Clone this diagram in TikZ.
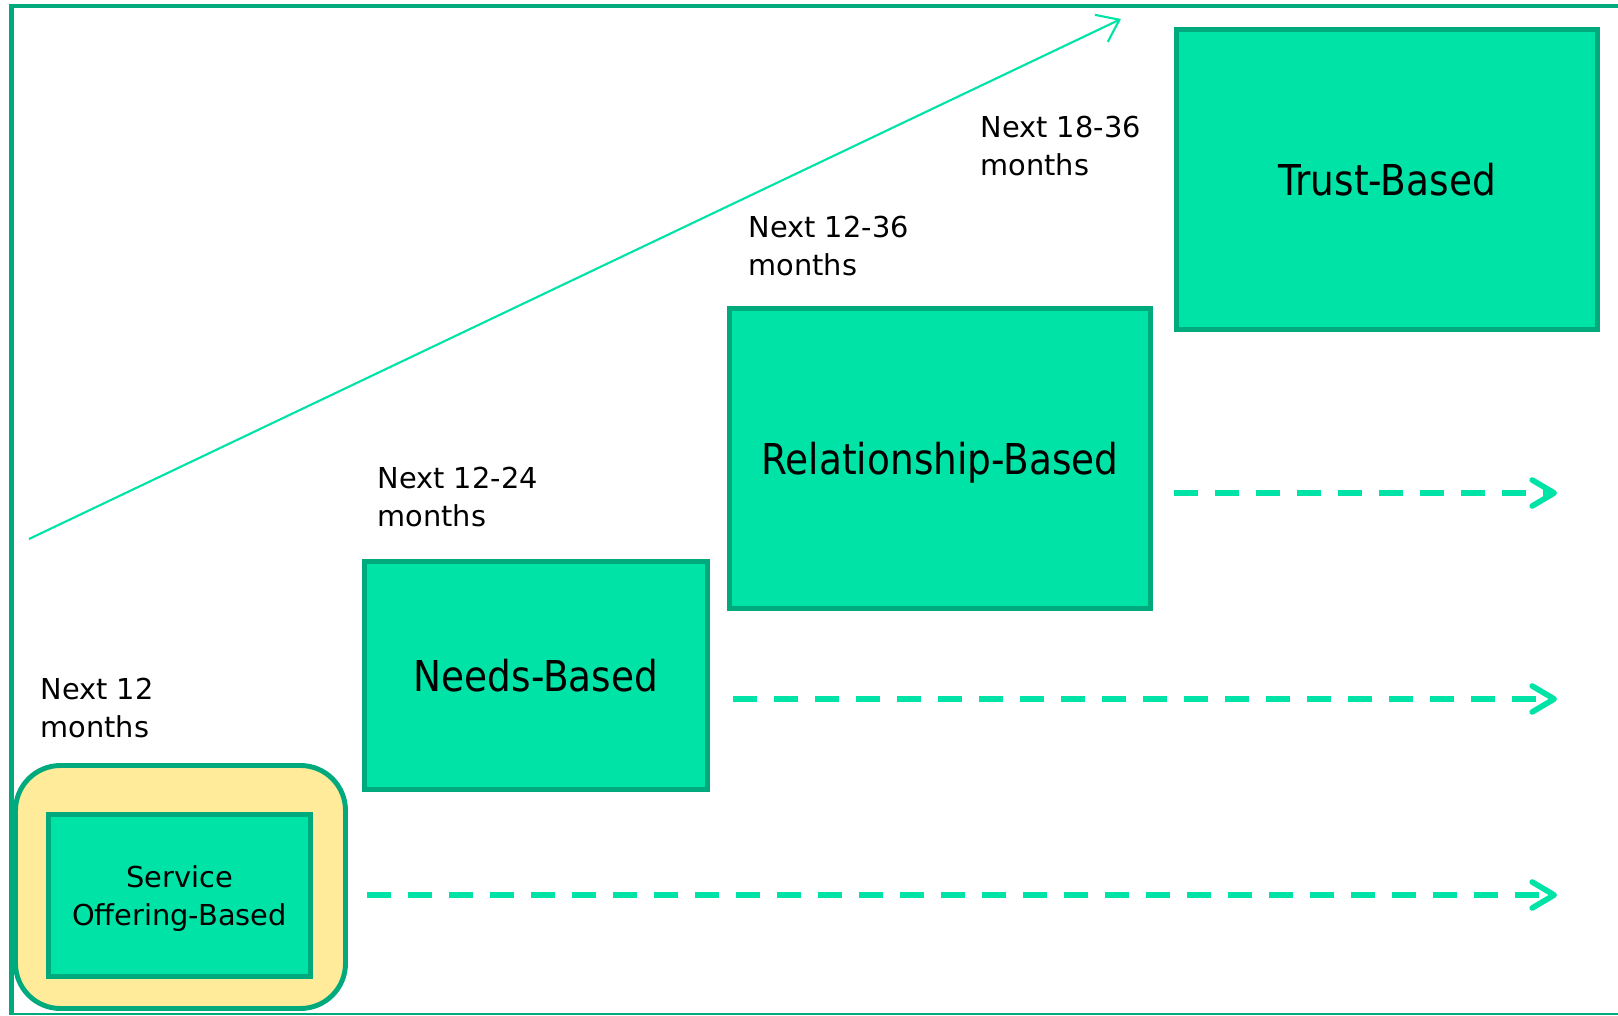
\documentclass[tikz,border=0pt]{standalone}
\usepackage{fontspec}
\setmainfont{DejaVu Sans}
\newfontfamily\stagefont{DejaVu Sans}[FakeStretch=0.88]
\usepackage{tikz}
\usepackage{xcolor}
\usetikzlibrary{arrows.meta,positioning}

\definecolor{mint}{RGB}{0,227,167}
\definecolor{darkmint}{RGB}{0,170,125}
\definecolor{paleyellow}{RGB}{255,235,153}

\begin{document}
\begin{tikzpicture}[
    stage/.style={draw=darkmint, line width=1.3pt, fill=mint, inner sep=0pt,
        text depth=0pt, font=\stagefont\fontsize{12.1}{15}\selectfont},
    period/.style={anchor=north west, inner sep=0pt, align=left,
        font=\fontsize{8.2}{11}\selectfont},
    later/.style={mint, line width=1.6pt, dash pattern=on 0.24cm off 0.17cm,
        -{Straight Barb[length=0.22cm,width=0.26cm,round]}}
  ]
    \useasboundingbox (0,0) rectangle (16.18,10.15);

    % Draw the frame
    \draw[darkmint, line width=1.4pt] (0.115,0) -- (0.115,10.09) -- (16.18,10.09);
    \draw[darkmint, line width=0.4pt] (0.115,0.01) -- (16.18,0.01);

    % Highlight around the first stage
    \node[draw=darkmint, line width=1.4pt, fill=paleyellow, rounded corners=0.45cm,
        minimum width=3.3cm, minimum height=2.43cm] (now) at (1.805,1.28) {};

    % Add the stages
    \node[stage, minimum width=2.62cm, minimum height=1.62cm, align=center,
        font=\fontsize{8.2}{10.8}\selectfont] (service) at (1.795,1.195)
        {Service\\Offering-Based};
    \node[stage, minimum width=3.43cm, minimum height=2.28cm] (needs) at (5.36,3.395) {Needs-Based};
    \node[stage, minimum width=4.21cm, minimum height=3.0cm] (relation) at (9.40,5.565) {Relationship-Based};
    \node[stage, minimum width=4.21cm, minimum height=3.0cm] (trust) at (13.87,8.355) {Trust-Based};

    % Add the time labels
    \node[period] (p1) at (0.40,3.38) {Next 12\\months};
    \node[period] (p2) at (3.77,5.49) {Next 12-24\\months};
    \node[period] (p3) at (7.48,8.00) {Next 12-36\\months};
    \node[period] (p4) at (9.80,9.00) {Next 18-36\\months};

    % Draw the growth line
    \coordinate (rise0) at (0.29,4.76);
    \coordinate (rise1) at (11.21,9.96);
    \draw[mint, line width=0.6pt, -{Straight Barb[length=0.2cm,width=0.3cm]}] (rise0) -- (rise1);

    % Add the dashed arrows
    \coordinate (s1) at (3.67,1.20);  \coordinate (e1) at (15.57,1.20);
    \coordinate (s2) at (7.33,3.16);  \coordinate (e2) at (15.57,3.16);
    \coordinate (s3) at (11.74,5.22); \coordinate (e3) at (15.57,5.22);
    \foreach \i in {1,2,3}
        \draw[later] (s\i) -- (e\i);
\end{tikzpicture}
\end{document}
